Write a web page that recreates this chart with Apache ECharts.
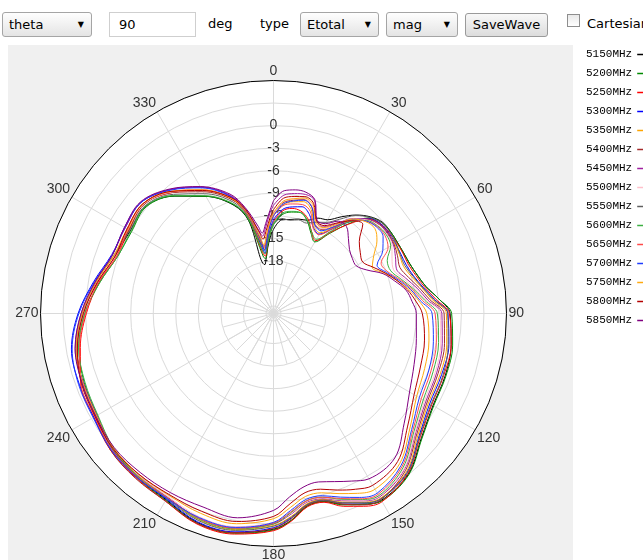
<!DOCTYPE html>
<html><head><meta charset="utf-8">
<script src="https://cdn.jsdelivr.net/npm/echarts@6/dist/echarts.min.js"></script>
<style>
html,body{margin:0;padding:0;width:643px;height:560px;overflow:hidden;background:#fff;font-family:"DejaVu Sans",sans-serif;}
#panel{position:absolute;left:8px;top:45px;width:565px;height:515px;background:#f0f0f0;}
#chart{position:absolute;left:0;top:0;width:643px;height:560px;}
.tb{position:absolute;top:12px;height:25px;box-sizing:border-box;font-size:13px;line-height:23px;color:#000;white-space:nowrap;}
.sel{border:1px solid #a5a5a5;border-radius:3px;background:linear-gradient(#fefefe,#e4e4e4);padding-left:6px;}
.sel .ar{position:absolute;right:7px;top:0;font-size:8px;}
.inp{border:1px solid #cfcfcf;background:#fff;padding-left:9px;}
.lbl{border:none;}
.btn{border:1px solid #9a9a9a;border-radius:3px;background:linear-gradient(#f8f8f8,#dcdcdc);text-align:center;top:13px;height:24px;line-height:22px;}
.cb{position:absolute;left:567px;top:14px;width:13px;height:13px;box-sizing:border-box;border:1px solid #8e8e8e;background:linear-gradient(#e9e9e9,#ffffff);}
</style></head>
<body>
<div id="panel"></div>
<div class="tb sel" style="left:2px;width:90px;">theta<span class="ar">&#9660;</span></div>
<div class="tb inp" style="left:109px;width:87px;">90</div>
<div class="tb lbl" style="left:208px;">deg</div>
<div class="tb lbl" style="left:260px;">type</div>
<div class="tb sel" style="left:300px;width:79px;">Etotal<span class="ar">&#9660;</span></div>
<div class="tb sel" style="left:386px;width:72px;">mag<span class="ar">&#9660;</span></div>
<div class="tb btn" style="left:465px;width:83px;">SaveWave</div>
<div class="cb"></div>
<div class="tb lbl" style="left:587px;">Cartesian</div>
<div id="chart"></div>
<script>
// angles (deg) shared by all series
const ANGLES = [0,5,10,15,20,25,30,35,40,45,50,55,60,65,70,75,80,85,90,100,110,120,130,140,150,155,160,165,170,175,180,190,200,210,220,230,240,250,260,270,280,290,300,310,320,330,340,345,350,352,355,358,360];
const FREQS = ['5150MHz','5200MHz','5250MHz','5300MHz','5350MHz','5400MHz','5450MHz','5500MHz','5550MHz','5600MHz','5650MHz','5700MHz','5750MHz','5800MHz','5850MHz'];
const RADIAL_TICK_LABELS = [0,-3,-6,-9,-12,-15,-18];
const ANGLE_TICK_LABELS = [0,30,60,90,120,150,180,210,240,270,300,330];

// gain (dB) per frequency, in ANGLES order
const G5150 = [-13.8,-12.5,-12.3,-12.0,-11.8,-11.0,-10.6,-9.3,-7.9,-6.8,-6.1,-6.0,-6.0,-5.9,-5.7,-5.2,-4.4,-2.9,-1.5,-1.0,-0.7,-0.5,0.7,2.9,3.7,3.0,2.0,0.9,1.0,2.6,3.7,4.6,4.6,3.6,3.3,3.0,2.3,2.0,1.6,0.4,-1.1,-2.5,-3.0,-2.8,-4.6,-7.0,-9.7,-12.2,-18.4,-17.8,-16.2,-14.6,-13.8];
const G5200 = [-13.2,-11.8,-11.3,-11.1,-11.9,-13.2,-14.0,-12.0,-9.4,-7.0,-6.2,-6.0,-6.0,-5.9,-5.7,-5.2,-4.4,-2.9,-1.3,-0.8,-0.6,-0.4,0.8,3.0,3.8,3.0,2.1,0.9,1.0,2.6,3.8,4.7,4.7,3.7,3.4,3.0,2.1,1.8,1.3,0.1,-1.5,-2.9,-3.2,-2.9,-4.6,-7.0,-9.6,-12.0,-17.4,-17.6,-16.0,-14.2,-13.2];
const G5250 = [-12.8,-11.3,-10.8,-10.9,-11.6,-13.0,-13.8,-11.8,-9.5,-7.2,-6.4,-6.2,-6.1,-6.0,-5.9,-5.4,-4.6,-3.3,-1.6,-1.0,-0.9,-0.7,0.5,2.8,3.9,3.3,2.3,1.0,1.1,2.7,3.9,4.8,4.8,3.8,3.5,3.3,2.6,2.3,1.1,-0.1,-1.4,-2.8,-2.8,-2.4,-4.0,-6.1,-8.8,-11.4,-16.8,-17.3,-15.8,-13.9,-12.8];
const G5300 = [-12.5,-11.1,-10.6,-10.3,-11.0,-12.4,-12.8,-11.2,-9.0,-7.1,-6.4,-6.3,-6.3,-6.3,-6.2,-5.7,-4.8,-3.5,-1.8,-1.3,-1.2,-1.0,0.3,2.6,3.5,2.8,1.8,0.7,0.8,2.3,3.5,4.5,4.5,3.5,3.3,3.2,2.6,2.5,2.3,1.0,-0.7,-2.1,-2.2,-2.0,-3.5,-5.6,-8.4,-11.2,-16.0,-16.9,-15.6,-13.6,-12.5];
const G5350 = [-12.0,-10.5,-9.9,-9.6,-10.3,-12.2,-12.6,-11.0,-8.9,-7.3,-6.6,-6.4,-6.4,-6.5,-6.6,-6.0,-5.0,-3.8,-2.0,-1.6,-1.4,-1.2,0.1,2.5,3.4,2.7,1.7,0.6,0.7,2.1,3.2,4.2,4.2,3.3,3.1,2.9,2.2,2.0,1.6,0.4,-1.1,-2.5,-2.7,-2.4,-3.9,-6.1,-8.8,-11.3,-15.4,-16.4,-15.0,-13.1,-12.0];
const G5400 = [-11.7,-10.2,-9.7,-9.3,-10.0,-11.9,-12.1,-10.8,-8.7,-7.2,-6.5,-6.4,-6.5,-6.8,-7.1,-6.4,-5.3,-4.1,-2.3,-1.9,-1.7,-1.4,-0.1,2.3,3.6,3.1,2.0,0.8,0.9,2.4,3.6,4.6,4.7,3.8,3.6,3.3,2.4,2.1,1.5,0.3,-1.2,-2.6,-2.8,-2.5,-4.0,-6.3,-8.9,-11.1,-15.0,-16.0,-14.6,-12.7,-11.7];
const G5450 = [-10.6,-9.2,-8.8,-8.6,-9.0,-11.4,-11.7,-10.4,-8.5,-7.3,-6.6,-6.5,-6.6,-7.1,-7.6,-6.8,-5.6,-4.4,-2.6,-2.2,-1.9,-1.6,-0.3,2.1,3.2,2.5,1.5,0.5,0.5,1.8,3.0,4.0,4.0,3.2,3.0,2.8,2.1,1.9,1.8,0.6,-0.9,-2.2,-2.2,-2.0,-3.5,-5.6,-8.3,-10.6,-13.8,-14.6,-13.4,-11.6,-10.6];
const G5500 = [-11.8,-10.0,-9.5,-9.2,-9.8,-11.8,-12.0,-10.7,-8.6,-7.4,-6.8,-6.6,-6.8,-7.6,-8.0,-7.1,-5.9,-4.6,-2.8,-2.4,-2.1,-1.8,-0.4,2.0,3.1,2.4,1.4,0.4,0.4,1.7,2.8,3.8,3.8,3.1,3.0,2.9,2.3,2.1,1.6,0.4,-1.1,-2.5,-2.6,-2.4,-3.9,-6.1,-8.7,-11.0,-14.6,-15.8,-14.6,-12.8,-11.8];
const G5550 = [-13.0,-12.3,-12.4,-12.1,-12.2,-11.6,-11.0,-9.7,-8.0,-6.9,-6.2,-6.1,-6.2,-6.4,-6.4,-5.8,-4.9,-3.6,-1.8,-1.4,-1.0,-0.8,0.4,2.7,3.5,2.8,1.8,0.7,0.8,2.2,3.3,4.3,4.3,3.4,3.2,3.0,2.3,2.1,1.7,0.5,-1.0,-2.4,-2.9,-2.7,-4.3,-6.6,-9.2,-11.6,-15.6,-16.4,-15.3,-13.8,-13.0];
const G5600 = [-13.0,-11.6,-11.2,-11.1,-11.8,-13.0,-13.6,-11.6,-9.0,-7.5,-6.9,-6.7,-7.0,-8.3,-8.4,-7.4,-6.1,-4.8,-3.2,-2.7,-2.4,-2.0,-0.6,1.8,3.0,2.3,1.3,0.3,0.3,1.6,3.0,4.1,4.1,3.3,3.2,2.8,2.0,1.7,1.3,0.1,-1.5,-2.9,-3.1,-2.8,-4.5,-6.9,-9.5,-11.8,-16.4,-17.0,-15.8,-14.0,-13.0];
const G5650 = [-12.0,-10.6,-10.2,-10.0,-10.6,-12.5,-12.9,-11.2,-8.8,-7.6,-7.0,-6.9,-7.4,-9.2,-8.8,-7.6,-6.3,-5.1,-3.5,-3.0,-2.7,-2.3,-0.8,1.6,2.8,2.2,1.2,0.3,0.3,1.5,2.9,4.0,4.0,3.3,3.3,3.1,2.5,2.3,1.2,0.0,-1.3,-2.8,-2.6,-2.3,-3.8,-6.0,-8.7,-11.2,-15.2,-16.2,-14.8,-13.0,-12.0];
const G5700 = [-12.0,-10.4,-9.8,-9.4,-10.0,-12.0,-12.3,-10.9,-8.7,-7.6,-7.1,-7.2,-8.2,-9.8,-9.0,-7.8,-6.5,-5.4,-3.9,-3.4,-3.0,-2.6,-1.0,1.4,2.6,2.0,1.0,0.1,0.1,1.3,2.8,3.9,3.9,3.4,3.4,3.2,2.7,2.6,2.2,0.9,-0.8,-2.2,-2.1,-2.0,-3.6,-5.7,-8.5,-11.0,-14.8,-16.6,-15.0,-13.1,-12.0];
const G5750 = [-11.6,-10.0,-9.5,-9.1,-9.6,-11.6,-11.8,-10.6,-8.6,-7.7,-7.4,-8.2,-9.6,-10.5,-9.3,-8.0,-6.7,-5.6,-4.6,-4.0,-3.6,-3.0,-1.3,1.1,2.0,1.4,0.5,-0.3,-0.3,0.9,2.3,3.4,3.3,2.9,2.9,2.8,2.2,2.0,1.7,0.5,-1.0,-2.4,-2.5,-2.3,-3.8,-6.0,-8.7,-10.9,-14.6,-15.8,-14.4,-12.6,-11.6];
const G5800 = [-11.2,-9.6,-9.2,-8.9,-9.4,-11.4,-11.5,-10.3,-8.9,-8.2,-10.1,-10.9,-11.3,-10.4,-9.2,-8.0,-6.9,-6.0,-5.2,-4.6,-4.2,-3.4,-1.7,0.7,1.4,0.8,0.0,-0.8,-0.8,0.4,2.0,3.1,3.0,2.8,2.9,2.9,2.4,2.2,1.5,0.3,-1.2,-2.6,-2.5,-2.3,-3.8,-6.1,-8.6,-10.7,-14.0,-15.0,-13.9,-12.2,-11.2];
const G5850 = [-10.0,-8.6,-8.3,-8.3,-8.9,-11.3,-11.2,-10.0,-9.9,-10.9,-11.8,-12.2,-12.3,-11.3,-9.5,-8.3,-7.1,-6.5,-6.0,-5.7,-5.1,-4.1,-2.3,0.1,0.4,-0.4,-1.2,-1.8,-1.6,-0.5,1.2,2.6,2.4,2.5,2.6,2.7,2.3,2.1,1.8,0.6,-0.9,-2.2,-2.1,-1.9,-3.4,-5.5,-8.1,-10.4,-13.2,-14.2,-13.0,-11.3,-10.0];

const GAINS = [G5150,G5200,G5250,G5300,G5350,G5400,G5450,G5500,G5550,G5600,G5650,G5700,G5750,G5800,G5850];
const COLORS = ['#000000','#008a00','#ff0000','#0000ff','#ffa500','#a52a2a','#a020a0','#ffc0cb','#606060','#3cb043','#ff4a4a','#1e3cff','#ffaa10','#b40000','#800080'];

const chart = echarts.init(document.getElementById('chart'), null, {renderer:'canvas'});
const C = [273.5, 313.5];
const labelFont = {fontFamily:'Liberation Sans', fontSize:14, color:'#333'};
const GRID = '#dadada';
const option = {
  animation:false,
  polar:[{center:C, radius:233},{center:C, radius:233},{center:C, radius:52}],
  angleAxis:[{
    polarIndex:0, z:-2, type:'value', min:0, max:360, interval:30, startAngle:90, clockwise:true,
    axisLine:{show:false}, axisTick:{show:false}, axisLabel:{show:false},
    splitLine:{show:false},
    splitArea:{show:true, areaStyle:{color:['#ffffff']}}
  },{
    polarIndex:1, z:1, type:'value', min:0, max:360, interval:30, startAngle:90, clockwise:true,
    axisLine:{show:true, lineStyle:{color:'#000', width:1}},
    axisTick:{show:false},
    axisLabel:Object.assign({margin:2, formatter:v=>ANGLE_TICK_LABELS.includes(v)?String(v):''}, labelFont),
    splitLine:{show:true, lineStyle:{color:GRID, width:1}},
    splitArea:{show:false}
  },{
    polarIndex:2, z:1, type:'value', min:0, max:360, interval:15, startAngle:90, clockwise:true,
    axisLine:{show:false}, axisTick:{show:false}, axisLabel:{show:false},
    splitLine:{show:true, lineStyle:{color:GRID, width:1}}, splitArea:{show:false}
  }],
  radiusAxis:[{
    polarIndex:0, type:'value', min:0, max:1, show:false
  },{
    polarIndex:1, z:1, type:'value', min:-25, max:6, splitNumber:10,
    axisLine:{show:false}, axisTick:{show:false},
    axisLabel:Object.assign({margin:0, align:'center', verticalAlign:'middle', formatter:v=>RADIAL_TICK_LABELS.includes(v)?String(v):''}, labelFont),
    splitLine:{show:true, lineStyle:{color:GRID, width:1}}
  },{
    polarIndex:2, type:'value', min:0, max:1, show:false
  }],
  legend:{
    orient:'vertical', left:581, top:43, align:'right', itemGap:6, itemWidth:14, itemHeight:1.5,
    icon:'rect', textStyle:{fontFamily:'Liberation Mono', fontSize:11, color:'#000', lineHeight:13},
    data:FREQS
  },
  series:FREQS.map((name,i)=>({
    name, type:'line', coordinateSystem:'polar', polarIndex:1, z:5,
    showSymbol:false, symbol:'none', smooth:0.35,
    lineStyle:{color:COLORS[i], width:1}, itemStyle:{color:COLORS[i]},
    data:ANGLES.map((a,j)=>[GAINS[i][j], a])
  }))
};
chart.setOption(option);
</script>
</body></html>
